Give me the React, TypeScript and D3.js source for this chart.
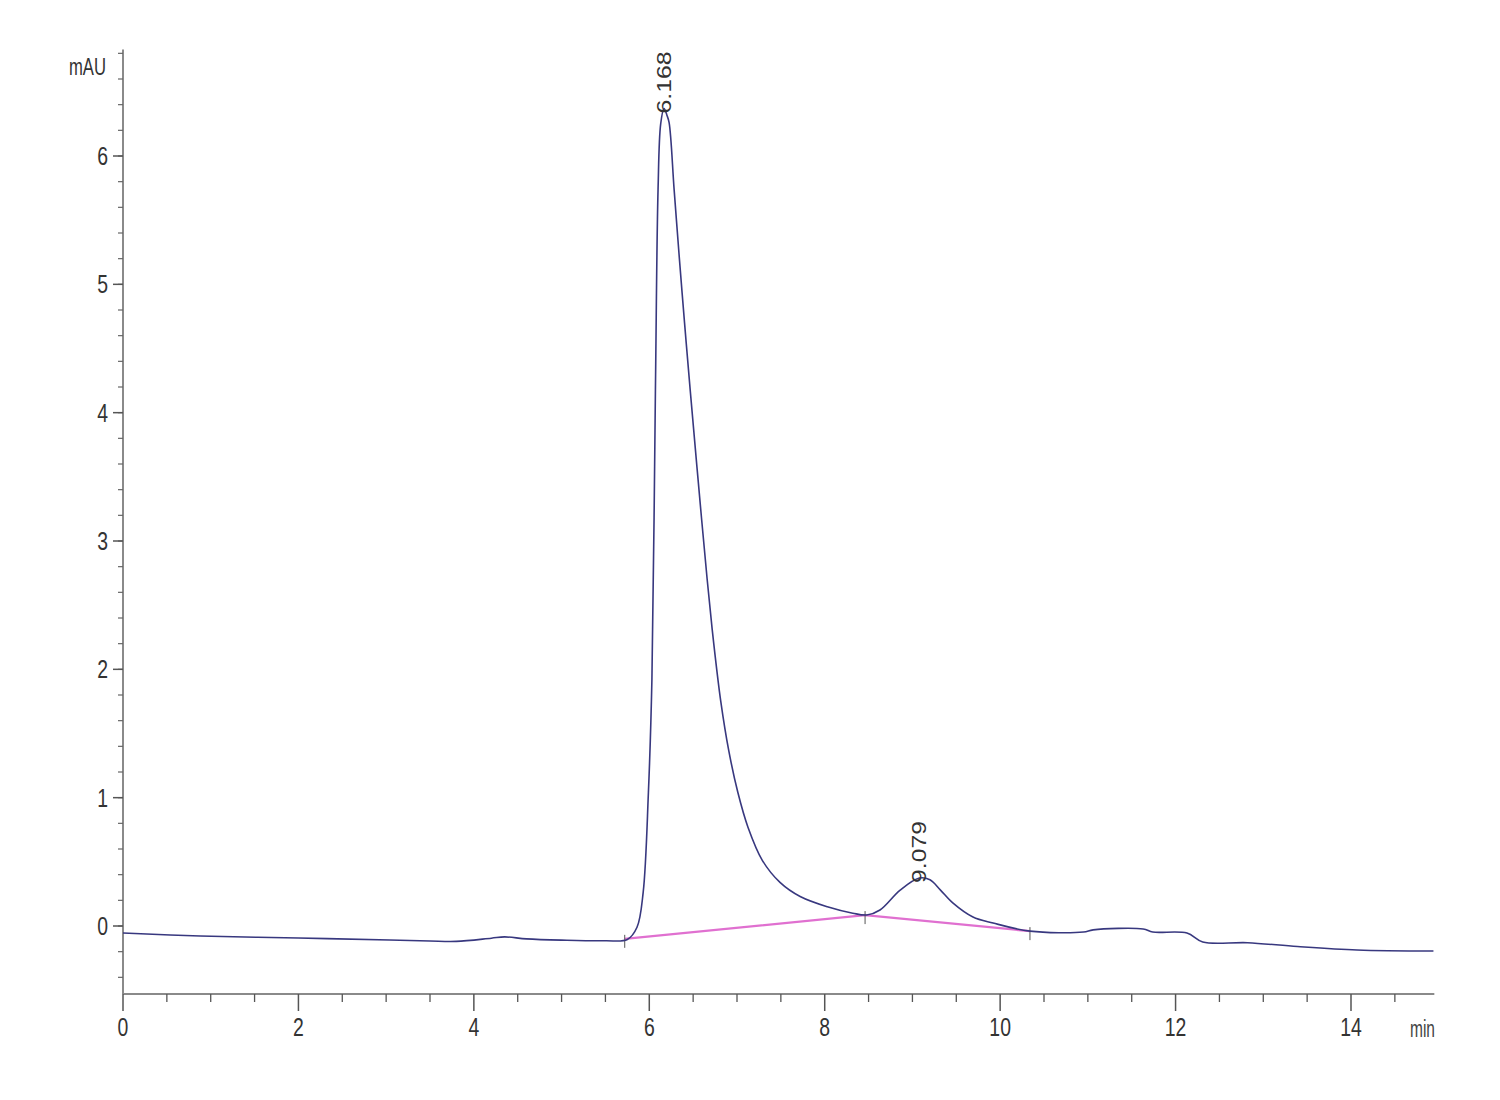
import React from "react";
import * as d3 from "d3";

const traceTime = [0, 0.88, 2.0, 3.04, 3.5, 3.8, 4.2, 4.35, 4.6, 5.0, 5.5, 5.75, 5.86, 5.93, 5.99, 6.03, 6.07, 6.1, 6.13, 6.168, 6.2, 6.226, 6.283, 6.342, 6.402, 6.466, 6.556, 6.66, 6.735, 6.815, 6.905, 7.01, 7.125, 7.29, 7.49, 7.72, 8.03, 8.32, 8.48, 8.63, 8.86, 9.079, 9.2, 9.32, 9.46, 9.69, 9.92, 10.34, 10.95, 11.06, 11.63, 11.74, 12.13, 12.31, 12.82, 13.39, 14.07, 14.94];
const traceMAU = [-0.055, -0.078, -0.094, -0.109, -0.117, -0.12, -0.095, -0.085, -0.1, -0.11, -0.115, -0.105, -0.01, 0.26, 1.04, 1.92, 4.18, 5.74, 6.25, 6.37, 6.32, 6.26, 5.74, 5.21, 4.7, 4.18, 3.48, 2.7, 2.2, 1.75, 1.37, 1.04, 0.77, 0.51, 0.34, 0.23, 0.15, 0.1, 0.086, 0.125, 0.28, 0.374, 0.36, 0.28, 0.18, 0.07, 0.023, -0.04, -0.047, -0.03, -0.023, -0.047, -0.055, -0.125, -0.13, -0.16, -0.187, -0.195];

const baseTime = [5.72, 8.46, 10.34];
const baseMAU = [-0.1, 0.085, -0.04];

const peakTimes = [6.168, 9.079];
const peakLabels = ["6.168", "9.079"];
const peakLabelTop = [6.37, 0.374];

const yTicks = [0, 1, 2, 3, 4, 5, 6];
const xTicks = [0, 2, 4, 6, 8, 10, 12, 14];

export default function App() {
  const x = d3.scaleLinear().domain([0, 14]).range([123, 1351]);
  const y = d3.scaleLinear().domain([0, 6]).range([926, 156]);
  const xMax = 14.95;
  const yMin = -0.53;
  const yMax = 6.83;

  const pts: [number, number][] = traceTime.map((t, i) => [t, traceMAU[i]]);
  const line = d3
    .line<[number, number]>()
    .x((d) => x(d[0]))
    .y((d) => y(d[1]))
    .curve(d3.curveCatmullRom.alpha(0.5));
  const bpts: [number, number][] = baseTime.map((t, i) => [t, baseMAU[i]]);
  const bline = d3
    .line<[number, number]>()
    .x((d) => x(d[0]))
    .y((d) => y(d[1]));

  const yMinor = d3.range(-0.4, 6.81, 0.2).map((v) => Math.round(v * 10) / 10);
  const xMinor = d3.range(0.5, 14.95, 0.5).filter((v) => v % 2 !== 0);

  const font = "'Liberation Sans', Arial, sans-serif";
  const axisColor = "#8a8a8a";
  const digitW = 10.8;

  return (
    <svg
      width={1500}
      height={1100}
      style={{ position: "absolute", left: 0, top: 0, background: "#fff" }}
    >
      {/* axes */}
      <line x1={x(0)} x2={x(0)} y1={y(yMax)} y2={y(yMin)} stroke={axisColor} strokeWidth={2} />
      <line x1={x(0)} x2={x(xMax)} y1={y(yMin)} y2={y(yMin)} stroke={axisColor} strokeWidth={2} />
      {yMinor.map((v) => (
        <line key={"ym" + v} x1={x(0) - 5} x2={x(0)} y1={y(v)} y2={y(v)} stroke="#666" strokeWidth={1.2} />
      ))}
      {yTicks.map((v) => (
        <g key={"y" + v}>
          <line x1={x(0) - 10} x2={x(0)} y1={y(v)} y2={y(v)} stroke="#555" strokeWidth={1.5} />
          <text
            x={108}
            y={y(v)}
            dy="0.36em"
            textAnchor="end"
            fontFamily={font}
            fontSize={25}
            fill="#333"
            textLength={String(v).length * digitW}
            lengthAdjust="spacingAndGlyphs"
          >
            {v}
          </text>
        </g>
      ))}
      {xMinor.map((v) => (
        <line key={"xm" + v} x1={x(v)} x2={x(v)} y1={y(yMin)} y2={y(yMin) + 8} stroke="#555" strokeWidth={1.3} />
      ))}
      {xTicks.map((v) => (
        <g key={"x" + v}>
          <line x1={x(v)} x2={x(v)} y1={y(yMin)} y2={y(yMin) + 17} stroke="#555" strokeWidth={1.5} />
          <text
            x={x(v)}
            y={1036}
            textAnchor="middle"
            fontFamily={font}
            fontSize={25}
            fill="#333"
            textLength={String(v).length * digitW}
            lengthAdjust="spacingAndGlyphs"
          >
            {v}
          </text>
        </g>
      ))}
      <text x={69} y={75} fontFamily={font} fontSize={24} fill="#333" textLength={37} lengthAdjust="spacingAndGlyphs">
        mAU
      </text>
      <text x={1410} y={1037} fontFamily={font} fontSize={23} fill="#444" textLength={25} lengthAdjust="spacingAndGlyphs">
        min
      </text>

      {/* integration baseline */}
      <path d={bline(bpts) || ""} fill="none" stroke="#e070d0" strokeWidth={2.2} />
      {baseTime.map((t, i) => (
        <line key={"bt" + i} x1={x(t)} x2={x(t)} y1={y(baseMAU[i]) - 4} y2={y(baseMAU[i]) + 9} stroke="#555" strokeWidth={1} />
      ))}

      {/* trace */}
      <path d={line(pts) || ""} fill="none" stroke="#38387f" strokeWidth={1.6} strokeLinejoin="round" />

      {/* peak labels */}
      {peakTimes.map((t, i) => (
        <text
          key={"pl" + i}
          transform={`translate(${x(t) + 7},${y(peakLabelTop[i]) + 5}) rotate(-90)`}
          fontFamily={font}
          fontSize={21}
          fill="#333"
          textLength={62}
          lengthAdjust="spacingAndGlyphs"
        >
          {peakLabels[i]}
        </text>
      ))}
    </svg>
  );
}
